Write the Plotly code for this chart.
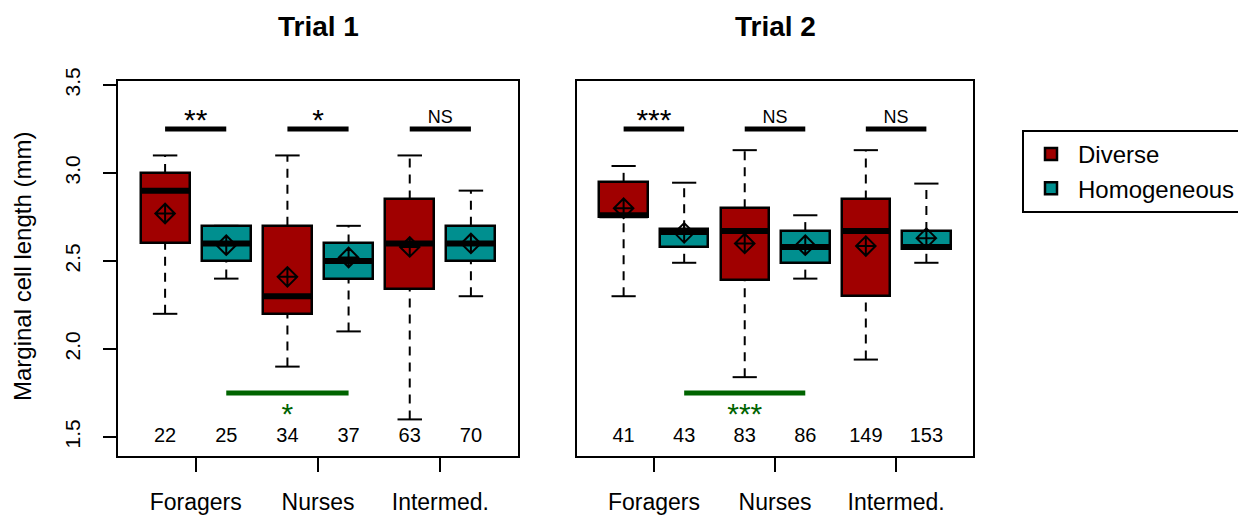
import plotly.graph_objects as go
from plotly.subplots import make_subplots

# ---------------- data ----------------
categories = ["Foragers", "Nurses", "Intermed."]
groups = ["Diverse", "Homogeneous"]
tick_vals_y = [1.5, 2.0, 2.5, 3.0, 3.5]
tick_text_y = ["1.5", "2.0", "2.5", "3.0", "3.5"]

# Trial 1
t1_div_low = [2.20, 1.90, 1.60]
t1_div_q1 = [2.60, 2.20, 2.34]
t1_div_med = [2.90, 2.30, 2.60]
t1_div_q3 = [3.00, 2.70, 2.85]
t1_div_high = [3.10, 3.10, 3.10]
t1_div_mean = [2.77, 2.41, 2.58]
t1_hom_low = [2.40, 2.10, 2.30]
t1_hom_q1 = [2.50, 2.40, 2.50]
t1_hom_med = [2.60, 2.50, 2.60]
t1_hom_q3 = [2.70, 2.60, 2.70]
t1_hom_high = [2.70, 2.70, 2.90]
t1_hom_mean = [2.59, 2.52, 2.60]
t1_n_div = [22, 34, 63]
t1_n_hom = [25, 37, 70]
t1_sig = ["**", "*", "NS"]
t1_sig_nurse_vs_forager = "*"

# Trial 2
t2_div_low = [2.30, 1.84, 1.94]
t2_div_q1 = [2.75, 2.39, 2.30]
t2_div_med = [2.76, 2.67, 2.67]
t2_div_q3 = [2.95, 2.80, 2.85]
t2_div_high = [3.04, 3.13, 3.13]
t2_div_mean = [2.80, 2.60, 2.585]
t2_hom_low = [2.49, 2.40, 2.49]
t2_hom_q1 = [2.58, 2.49, 2.57]
t2_hom_med = [2.665, 2.58, 2.58]
t2_hom_q3 = [2.68, 2.67, 2.67]
t2_hom_high = [2.945, 2.76, 2.94]
t2_hom_mean = [2.66, 2.59, 2.63]
t2_n_div = [41, 83, 149]
t2_n_hom = [43, 86, 153]
t2_sig = ["***", "NS", "NS"]
t2_sig_nurse_vs_forager = "***"

sig_bar_level = 3.25
green_bar_level = 1.75
count_level = 1.5

# ---------------- style ----------------
RED = "#A00000"
TEAL = "#008F8F"
GREEN = "#006400"
FONT = "Liberation Sans, Arial, Helvetica, sans-serif"
BOXW = 0.8
CAPW = 0.4

fig = make_subplots(rows=1, cols=2)


def add_group(col, pos, low, q1, med, q3, high, mean, color, name, showleg):
    xref = dict(row=1, col=col)
    # whiskers (dashed)
    wx, wy = [], []
    for p, lo, a, b, hi in zip(pos, low, q1, q3, high):
        wx += [p, p, None, p, p, None]
        wy += [lo, a, None, b, hi, None]
    fig.add_trace(go.Scatter(x=wx, y=wy, mode="lines", showlegend=False, hoverinfo="skip",
                             line=dict(color="black", width=2, dash="9px,7px")), **xref)
    # caps
    cx, cy = [], []
    for p, lo, hi in zip(pos, low, high):
        cx += [p - CAPW / 2, p + CAPW / 2, None, p - CAPW / 2, p + CAPW / 2, None]
        cy += [lo, lo, None, hi, hi, None]
    fig.add_trace(go.Scatter(x=cx, y=cy, mode="lines", showlegend=False, hoverinfo="skip",
                             line=dict(color="black", width=2)), **xref)
    # boxes
    fig.add_trace(go.Bar(x=pos, y=[b - a for a, b in zip(q1, q3)], base=q1, width=BOXW,
                         marker=dict(color=color, line=dict(color="black", width=2.5)),
                         name=name, showlegend=showleg), **xref)
    # medians
    mx, my = [], []
    for p, m in zip(pos, med):
        mx += [p - BOXW / 2, p + BOXW / 2, None]
        my += [m, m, None]
    fig.add_trace(go.Scatter(x=mx, y=my, mode="lines", showlegend=False, hoverinfo="skip",
                             line=dict(color="black", width=6)), **xref)
    # means
    fig.add_trace(go.Scatter(x=pos, y=mean, mode="markers", showlegend=False,
                             marker=dict(symbol="diamond-cross-open", size=15, color="black",
                                         line=dict(width=2, color="black"))), **xref)


def add_panel(col, div, hom, n_div, n_hom, sig, green_sig, showleg):
    pos_div = [1, 3, 5]
    pos_hom = [2, 4, 6]
    add_group(col, pos_div, *div, RED, groups[0], showleg)
    add_group(col, pos_hom, *hom, TEAL, groups[1], showleg)
    xref = dict(row=1, col=col)
    # counts
    fig.add_trace(go.Scatter(x=pos_div + pos_hom, y=[count_level] * 6, mode="text",
                             text=[str(v) for v in n_div + n_hom], showlegend=False,
                             textfont=dict(size=20, color="black", family=FONT)), **xref)
    # significance bars
    sx, sy = [], []
    for a, b in zip(pos_div, pos_hom):
        sx += [a, b, None]
        sy += [sig_bar_level, sig_bar_level, None]
    fig.add_trace(go.Scatter(x=sx, y=sy, mode="lines", showlegend=False, hoverinfo="skip",
                             line=dict(color="black", width=5)), **xref)
    for a, b, s in zip(pos_div, pos_hom, sig):
        is_ns = s == "NS"
        fig.add_trace(go.Scatter(x=[(a + b) / 2], y=[3.31 if is_ns else 3.29], mode="text",
                                 text=[s], showlegend=False,
                                 textfont=dict(size=18 if is_ns else 30, color="black",
                                               family=FONT)), **xref)
    # green bar (foragers vs nurses)
    fig.add_trace(go.Scatter(x=[pos_hom[0], pos_div[1] + 1], y=[green_bar_level] * 2,
                             mode="lines", showlegend=False, hoverinfo="skip",
                             line=dict(color=GREEN, width=5)), **xref)
    fig.add_trace(go.Scatter(x=[(pos_hom[0] + pos_div[1] + 1) / 2], y=[1.615], mode="text",
                             text=[green_sig], showlegend=False,
                             textfont=dict(size=30, color=GREEN, family=FONT)), **xref)


add_panel(1,
          (t1_div_low, t1_div_q1, t1_div_med, t1_div_q3, t1_div_high, t1_div_mean),
          (t1_hom_low, t1_hom_q1, t1_hom_med, t1_hom_q3, t1_hom_high, t1_hom_mean),
          t1_n_div, t1_n_hom, t1_sig, t1_sig_nurse_vs_forager, True)
add_panel(2,
          (t2_div_low, t2_div_q1, t2_div_med, t2_div_q3, t2_div_high, t2_div_mean),
          (t2_hom_low, t2_hom_q1, t2_hom_med, t2_hom_q3, t2_hom_high, t2_hom_mean),
          t2_n_div, t2_n_hom, t2_sig, t2_sig_nurse_vs_forager, False)

W, H = 1246, 516
OFF = 8  # page body margin in the browser


def px(v):
    return (v - OFF) / W


def py(v):
    return 1 - (v - OFF) / H


x1 = [px(118), px(518)]
x2 = [px(577), px(973)]
ydom = [py(456), py(81)]
xr = [0.23, 6.77]
yr = [1.392, 3.523]

common_x = dict(range=xr, tickvals=[1.5, 3.5, 5.5], ticktext=categories, ticks="outside",
                ticklen=14, tickwidth=2, tickcolor="black", showline=True, mirror=True,
                linecolor="black", linewidth=2, showgrid=False, zeroline=False,
                automargin=False,
                tickfont=dict(size=23, color="black", family=FONT), ticklabelstandoff=10)
fig.update_layout(
    xaxis=dict(domain=x1, **common_x),
    xaxis2=dict(domain=x2, **common_x),
    yaxis=dict(domain=ydom, range=yr, tickvals=tick_vals_y, ticktext=tick_text_y,
               tickangle=-90, ticks="outside", ticklen=13, tickwidth=2, tickcolor="black",
               showline=True, mirror=True, linecolor="black", linewidth=2, showgrid=False,
               zeroline=False, automargin=False,
               tickfont=dict(size=21, color="black", family=FONT), ticklabelstandoff=15),
    yaxis2=dict(domain=ydom, range=yr, matches="y", showticklabels=False, ticks="",
                showline=True, mirror=True, linecolor="black", linewidth=2, showgrid=False,
                zeroline=False, automargin=False),
    width=W, height=H, margin=dict(l=0, r=0, t=0, b=0),
    plot_bgcolor="white", paper_bgcolor="white",
    barmode="overlay", bargap=0,
    font=dict(family=FONT, color="black"),
    showlegend=True,
    legend=dict(x=px(1022), y=py(130), xanchor="left", yanchor="top",
                bordercolor="black", borderwidth=2, bgcolor="white", itemwidth=44,
                font=dict(size=24, color="black", family=FONT)),
    annotations=[
        dict(text="<b>Trial 1</b>", x=sum(x1) / 2, y=py(27), xref="paper", yref="paper",
             xanchor="center", yanchor="middle",
             showarrow=False, font=dict(size=28, family=FONT, color="black")),
        dict(text="<b>Trial 2</b>", x=sum(x2) / 2, y=py(27), xref="paper", yref="paper",
             xanchor="center", yanchor="middle",
             showarrow=False, font=dict(size=28, family=FONT, color="black")),
        dict(text="Marginal cell length (mm)", x=px(22), y=py(267), xref="paper",
             yref="paper", showarrow=False, textangle=-90, xanchor="center", yanchor="middle",
             font=dict(size=24, family=FONT, color="black")),
    ],
)

fig.write_html("out.html")
